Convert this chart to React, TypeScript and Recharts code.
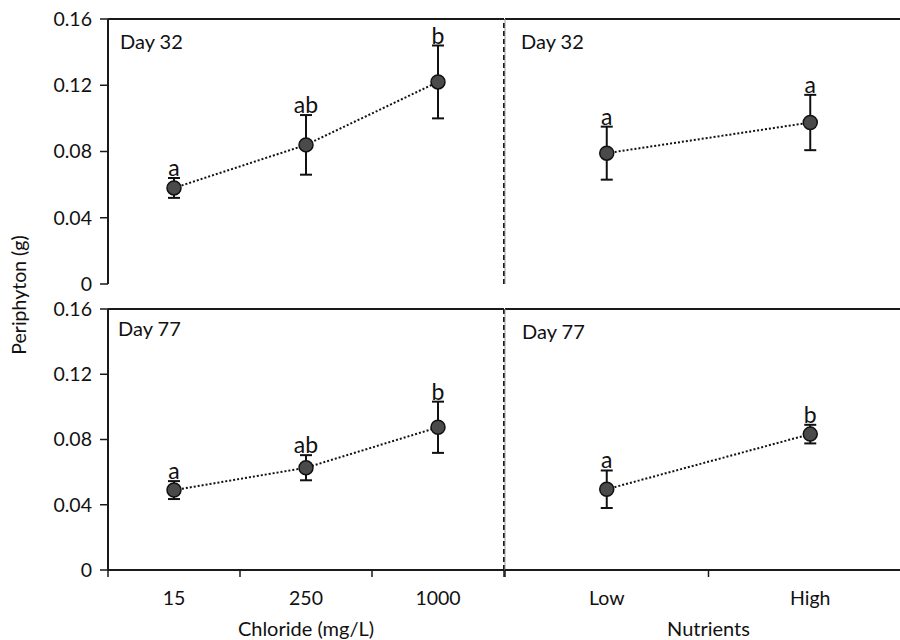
import React from 'react';
import {
  LineChart,
  Line,
  XAxis,
  YAxis,
  ErrorBar,
  LabelList,
  ReferenceLine,
} from 'recharts';

const chlorideLevels = ['15', '250', '1000'];
const nutrientLevels = ['Low', 'High'];

// Day 32
const chlorideDay32 = [0.058, 0.084, 0.122];
const chlorideDay32Se = [0.006, 0.018, 0.022];
const chlorideDay32Groups = ['a', 'ab', 'b'];

const nutrientDay32 = [0.079, 0.0975];
const nutrientDay32Se = [0.016, 0.0167];
const nutrientDay32Groups = ['a', 'a'];

// Day 77
const chlorideDay77 = [0.049, 0.0627, 0.0875];
const chlorideDay77Se = [0.0055, 0.0077, 0.0157];
const chlorideDay77Groups = ['a', 'ab', 'b'];

const nutrientDay77 = [0.0495, 0.0833];
const nutrientDay77Se = [0.0115, 0.0057];
const nutrientDay77Groups = ['a', 'b'];

const yTicks = [0, 0.04, 0.08, 0.12, 0.16];

const W = 920;
const H = 640;
const INK = '#1a1a1a';
const FONT = 'Lato, "Open Sans", sans-serif';
const TICK_FS = 19.5;

const buildRows = (cats: string[], means: number[], se: number[], groups: string[]) =>
  cats.map((name, i) => ({
    name,
    x: i + 0.5,
    mean: means[i],
    se: se[i],
    top: means[i] + se[i],
    group: groups[i],
  }));

const GroupLabel = (props: any) => {
  const x = props.x ?? props.viewBox?.x;
  const y = props.y ?? props.viewBox?.y;
  return (
    <text x={x} y={y - 2} textAnchor="middle" fontSize={23} fill="#111" fontFamily={FONT}>
      {props.value}
    </text>
  );
};

const makeBandTick = (labels: string[]) => (props: any) => {
  const { x, y, payload } = props;
  const v = payload.value;
  if (Number.isInteger(v)) {
    return <line x1={x} x2={x} y1={y} y2={y + 7} stroke={INK} strokeWidth={1.5} />;
  }
  return (
    <text x={x} y={y + 35} textAnchor="middle" fontSize={TICK_FS} fill="#111" fontFamily={FONT}>
      {labels[Math.floor(v)]}
    </text>
  );
};

type PanelProps = {
  rows: any[];
  labels: string[];
  plotTop: number;
  plotBottom: number;
  plotLeft: number;
  plotRight: number;
  showY: boolean;
  bottomRow: boolean;
  xTitle?: string;
  divider: boolean;
};

const Panel: React.FC<PanelProps> = ({
  rows,
  labels,
  plotTop,
  plotBottom,
  plotLeft,
  plotRight,
  showY,
  bottomRow,
  xTitle,
  divider,
}) => {
  const xMax = labels.length;
  const yWidth = showY ? 60 : 0;
  const xHeight = bottomRow ? H - plotBottom : 0;
  const xTicks: number[] = [];
  for (let i = 0; i <= xMax * 2; i++) xTicks.push(i / 2);

  return (
    <div style={{ position: 'absolute', left: 0, top: 0 }}>
      <LineChart
        width={W}
        height={H}
        data={rows}
        margin={{
          top: plotTop,
          bottom: H - plotBottom - xHeight,
          left: plotLeft - yWidth,
          right: W - plotRight,
        }}
      >
        <XAxis
          dataKey="x"
          type="number"
          domain={[0, xMax]}
          ticks={bottomRow ? xTicks : []}
          interval={0}
          height={xHeight}
          tick={bottomRow ? makeBandTick(labels) : false}
          tickLine={false}
          tickSize={0}
          tickMargin={0}
          axisLine={{ stroke: INK, strokeWidth: 2 }}
          label={
            xTitle
              ? { value: xTitle, position: 'insideBottom', offset: 4, fontSize: 20, fill: '#111' }
              : undefined
          }
        />
        <YAxis
          type="number"
          domain={[0, 0.16]}
          ticks={yTicks}
          interval={0}
          hide={!showY}
          width={yWidth}
          tickSize={8}
          tickMargin={8}
          tick={{ fontSize: TICK_FS, fill: '#111' }}
          tickLine={{ stroke: INK, strokeWidth: 1.5 }}
          axisLine={{ stroke: INK, strokeWidth: 2 }}
          tickFormatter={(v: number) => (v === 0 ? '0' : v.toFixed(2))}
        />
        <ReferenceLine y={0.16} stroke={INK} strokeWidth={2} />
        {divider && (
          <ReferenceLine x={xMax} stroke={INK} strokeWidth={2} strokeDasharray="5 3" />
        )}
        {!divider && (
          <ReferenceLine x={0} stroke="#9a9a9a" strokeWidth={1} />
        )}
        <Line
          dataKey="mean"
          stroke="#111"
          strokeWidth={2}
          strokeDasharray="2 2"
          dot={{ r: 7, fill: '#4a4a4a', stroke: '#111', strokeWidth: 1.5, strokeDasharray: 'none' }}
          activeDot={false}
          isAnimationActive={false}
        >
          <ErrorBar dataKey="se" direction="y" width={6} strokeWidth={2} stroke="#111" />
        </Line>
        <Line
          dataKey="top"
          stroke="none"
          dot={false}
          activeDot={false}
          isAnimationActive={false}
        >
          <LabelList dataKey="group" content={GroupLabel} />
        </Line>
      </LineChart>
    </div>
  );
};

const App: React.FC = () => {
  return (
    <div
      style={{
        position: 'fixed',
        left: 0,
        top: 0,
        width: 900,
        height: 640,
        overflow: 'hidden',
        background: '#fff',
        fontFamily: FONT,
      }}
    >
      <Panel
        rows={buildRows(chlorideLevels, chlorideDay32, chlorideDay32Se, chlorideDay32Groups)}
        labels={chlorideLevels}
        plotTop={19}
        plotBottom={284}
        plotLeft={108}
        plotRight={504}
        showY
        bottomRow={false}
        divider
      />
      <Panel
        rows={buildRows(nutrientLevels, nutrientDay32, nutrientDay32Se, nutrientDay32Groups)}
        labels={nutrientLevels}
        plotTop={19}
        plotBottom={284}
        plotLeft={505}
        plotRight={912}
        showY={false}
        bottomRow={false}
        divider={false}
      />
      <Panel
        rows={buildRows(chlorideLevels, chlorideDay77, chlorideDay77Se, chlorideDay77Groups)}
        labels={chlorideLevels}
        plotTop={309}
        plotBottom={570}
        plotLeft={108}
        plotRight={504}
        showY
        bottomRow
        xTitle="Chloride (mg/L)"
        divider
      />
      <Panel
        rows={buildRows(nutrientLevels, nutrientDay77, nutrientDay77Se, nutrientDay77Groups)}
        labels={nutrientLevels}
        plotTop={309}
        plotBottom={570}
        plotLeft={505}
        plotRight={912}
        showY={false}
        bottomRow
        xTitle="Nutrients"
        divider={false}
      />
      <svg
        width={900}
        height={640}
        style={{ position: 'absolute', left: 0, top: 0, pointerEvents: 'none' }}
      >
        <g fontFamily={FONT} fontSize={20} fill="#111">
          <text x={120} y={49}>Day 32</text>
          <text x={521} y={49}>Day 32</text>
          <text x={118} y={336}>Day 77</text>
          <text x={522} y={339}>Day 77</text>
          <text
            x={18}
            y={295}
            fontSize={19.5}
            textAnchor="middle"
            dominantBaseline="central"
            transform="rotate(-90 18 295)"
          >
            Periphyton (g)
          </text>
        </g>
      </svg>
    </div>
  );
};

export default App;
